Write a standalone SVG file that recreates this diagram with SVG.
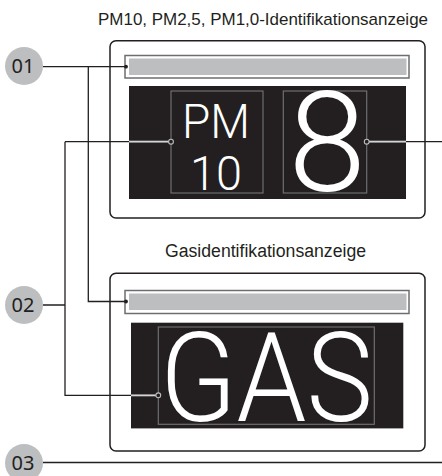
<svg xmlns="http://www.w3.org/2000/svg" width="442" height="476" viewBox="0 0 442 476">
<style>
.title{font-family:"Liberation Sans",Arial,sans-serif;fill:#231f20}
.lbl{font-family:"Noto Sans","Liberation Sans",sans-serif;font-size:20px;fill:#231f20;text-anchor:middle}
.big{font-family:Roboto,"Liberation Sans",sans-serif;font-weight:300;fill:#ffffff}
.frame{fill:#ffffff;stroke:#231f20;stroke-width:1.5}
.barout{fill:#ffffff;stroke:#6d6e71;stroke-width:1.5}
.barin{fill:#bcbec0}
.disp{fill:#231f20}
.inner{fill:none;stroke:#6d6e71;stroke-width:1.2}
.badge{fill:#bcbec0}
.wire{fill:none;stroke:#231f20;stroke-width:1.3}
.wlo{fill:none;stroke:#8a8b8d;stroke-width:2.2}
.whi{fill:none;stroke:#ffffff;stroke-width:0.8}
.ring{fill:#231f20;stroke:#bcbec0;stroke-width:1.1}
.dot{fill:#231f20}
</style>
<text class="title" x="98" y="25" font-size="17" textLength="330" lengthAdjust="spacingAndGlyphs">PM10, PM2,5, PM1,0-Identifikationsanzeige</text>
<text class="title" x="165" y="257" font-size="17.6" textLength="201" lengthAdjust="spacingAndGlyphs">Gasidentifikationsanzeige</text>
<g id="display-pm">
<rect class="frame" x="110" y="40.7" width="315" height="177.3" rx="6"/>
<rect class="barout" x="125" y="55.5" width="284" height="22.5"/>
<rect class="barin" x="129" y="58.5" width="277.5" height="16.5"/>
<rect class="disp" x="129" y="86" width="277" height="113"/>
<rect class="inner" x="171" y="91" width="92" height="102"/>
<rect class="inner" x="283.3" y="91" width="83.4" height="102"/>
<text class="big" x="182" y="138" font-size="48" textLength="68" lengthAdjust="spacingAndGlyphs">PM</text>
<text class="big" x="190" y="190" font-size="48" textLength="52" lengthAdjust="spacingAndGlyphs">10</text>
<text class="big" x="327" y="191" font-size="140" text-anchor="middle">8</text>
</g>
<g id="display-gas">
<rect class="frame" x="110" y="273.3" width="315" height="177.7" rx="6"/>
<rect class="barout" x="125" y="290.5" width="284" height="23"/>
<rect class="barin" x="129" y="293.5" width="277.5" height="16.5"/>
<rect class="disp" x="131" y="322.7" width="272.3" height="105.7"/>
<rect class="inner" x="158.3" y="327" width="216" height="97.3"/>
<text class="big" x="160" y="421" font-size="125" textLength="213" lengthAdjust="spacingAndGlyphs">GAS</text>
</g>
<g id="badge-01"><circle class="badge" cx="24" cy="66" r="19"/><text class="lbl" x="23" y="73">01</text></g>
<g id="badge-02"><circle class="badge" cx="24" cy="305" r="19"/><text class="lbl" x="23" y="312">02</text></g>
<g id="badge-03"><circle class="badge" cx="24" cy="463" r="19"/><text class="lbl" x="23" y="470">03</text></g>
<g id="connectors">
<path class="wire" d="M43 66.7H126M88.3 66.7V301.5H126"/>
<path class="wire" d="M43 305H65M65 141.7V395.3H131M65 141.7H129"/>
<path class="wire" d="M406 141.7H442"/>
<path class="wire" d="M43 462.5H442"/>
<path class="wlo" d="M129 141.7H169M369 141.7H406M131 395.3H156"/>
<path class="whi" d="M129 141.7H169M369 141.7H406M131 395.3H156"/>
<circle class="ring" cx="171" cy="141.7" r="2.4"/>
<circle class="ring" cx="366.7" cy="141.7" r="2.4"/>
<circle class="ring" cx="158.3" cy="395.3" r="2.4"/>
<circle class="dot" cx="126" cy="66.7" r="1.9"/>
<circle class="dot" cx="126" cy="301.5" r="1.9"/>
</g>
</svg>
